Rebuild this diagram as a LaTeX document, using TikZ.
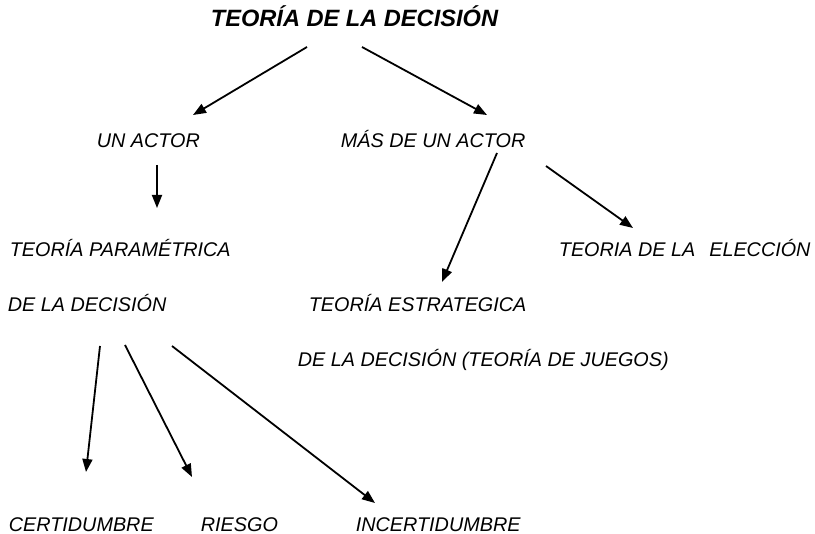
\documentclass[tikz,border=0pt]{standalone}
\usepackage{fontspec}
\setmainfont{Liberation Sans}
\usetikzlibrary{arrows.meta}
\tikzset{->,>={Triangle[length=6.5pt,width=5pt]},
every node/.style={inner sep=0pt, anchor=base west, font=\rotulo},
titulo/.style={font=\fontsize{11.8}{14}\selectfont\bfseries\itshape},
}
\newcommand{\rotulo}{\fontsize{9.9}{12}\selectfont\itshape}

\begin{document}
\begin{tikzpicture}[x=0.5pt, y=-0.5pt, line width=0.9pt]
    \path[use as bounding box, -] (0,0) rectangle (815,534);
    \node[titulo] (teoria) at (210,27) {TEORÍA DE LA DECISIÓN};
    \node (unactor) at (96,148) {UN ACTOR};
    \node (masactor) at (340,148) {MÁS DE UN ACTOR};
    \node (param1) at (9,257) {TEORÍA PARAMÉTRICA};
    \node (param2) at (7,312) {DE LA DECISIÓN};
    \node (estrat1) at (308,312) {TEORÍA ESTRATEGICA};
    \node (estrat2) at (297,367) {DE LA DECISIÓN (TEORÍA DE JUEGOS)};
    \node (eleccion) at (558,257) {TEORIA DE LA\hspace{7pt}ELECCIÓN};
    \node (certi) at (8,531) {CERTIDUMBRE};
    \node (riesgo) at (200,531) {RIESGO};
    \node (incerti) at (355,531) {INCERTIDUMBRE};
    % arrow ends
    \coordinate (a1) at (307,47);  \coordinate (b1) at (193,115);
    \coordinate (a2) at (362,47);  \coordinate (b2) at (487,115);
    \coordinate (a3) at (157,165); \coordinate (b3) at (157,208);
    \coordinate (a4) at (497,153); \coordinate (b4) at (442,282);
    \coordinate (a5) at (546,166); \coordinate (b5) at (633,228);
    \coordinate (a6) at (100,346); \coordinate (b6) at (86,472);
    \coordinate (a7) at (125,345); \coordinate (b7) at (192,477);
    \coordinate (a8) at (172,346); \coordinate (b8) at (375,503);
    \path
        (a1) edge[] (b1)
        (a2) edge[] (b2)
        (a3) edge[] (b3)
        (a4) edge[] (b4)
        (a5) edge[] (b5)
        (a6) edge[] (b6)
        (a7) edge[] (b7)
        (a8) edge[] (b8)
        ;
\end{tikzpicture}
\end{document}
